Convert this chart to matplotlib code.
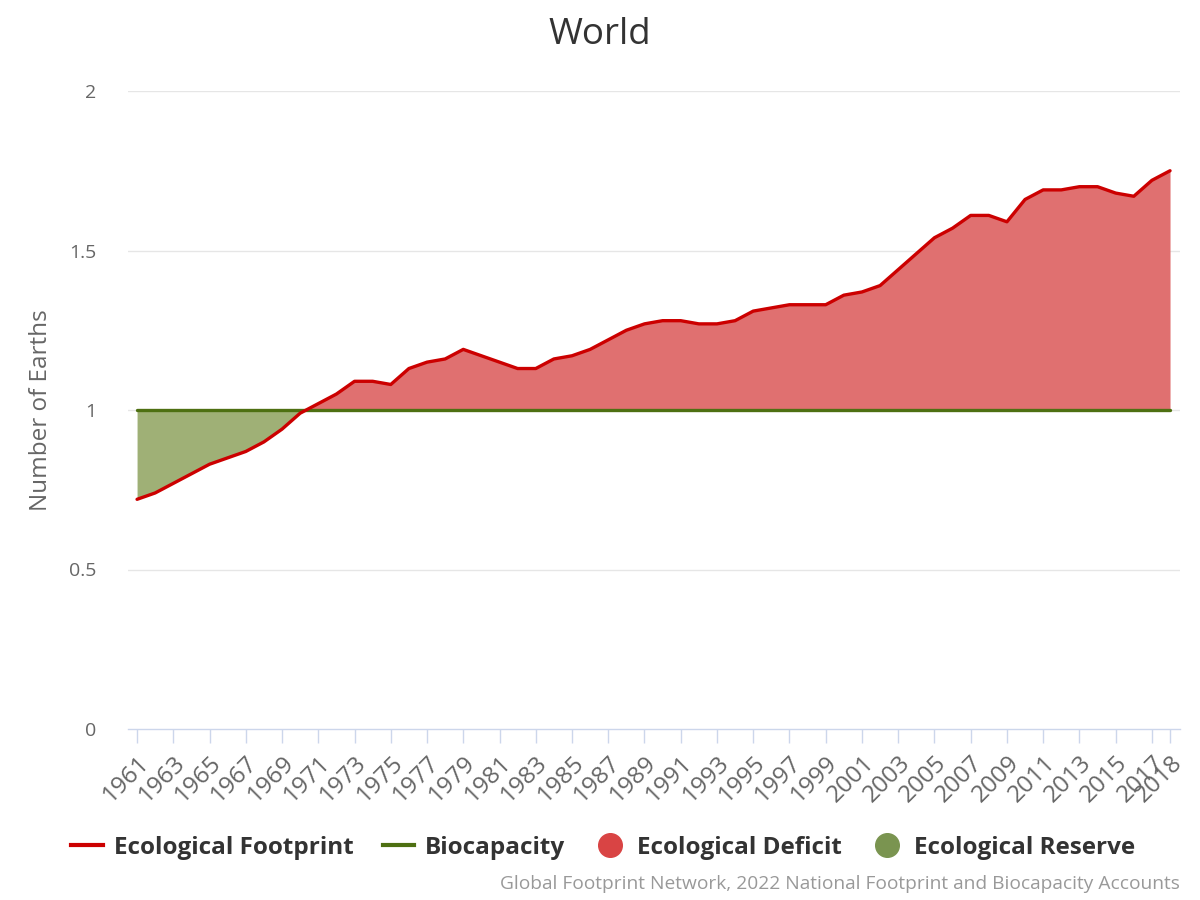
import numpy as np
import matplotlib.pyplot as plt
from matplotlib.lines import Line2D

plt.rcParams['font.family'] = ['Open Sans', 'DejaVu Sans']

# ---- data ----
years = list(range(1961, 2019))
footprint = [0.72, 0.74, 0.77, 0.80, 0.83, 0.85, 0.87, 0.90, 0.94, 0.99,
             1.02, 1.05, 1.09, 1.09, 1.08, 1.13, 1.15, 1.16, 1.19, 1.17,
             1.15, 1.13, 1.13, 1.16, 1.17, 1.19, 1.22, 1.25, 1.27, 1.28,
             1.28, 1.27, 1.27, 1.28, 1.31, 1.32, 1.33, 1.33, 1.33, 1.36,
             1.37, 1.39, 1.44, 1.49, 1.54, 1.57, 1.61, 1.61, 1.59, 1.66,
             1.69, 1.69, 1.70, 1.70, 1.68, 1.67, 1.72, 1.75]
biocapacity = [1.0] * len(years)
tick_years = list(range(1961, 2018, 2)) + [2018]
y_ticks = [0, 0.5, 1, 1.5, 2]
y_tick_labels = ['0', '0.5', '1', '1.5', '2']

# ---- colours ----
RED_LINE = '#cc0000'
RED_FILL = '#e07070'
GREEN_LINE = '#4e7012'
GREEN_FILL = '#9fb076'
DEFICIT_DOT = '#d94444'
RESERVE_DOT = '#7a9450'

x = np.array(years)
fp = np.array(footprint)
bc = np.array(biocapacity)

fig = plt.figure(figsize=(12, 9), dpi=100)
ax = fig.add_axes([128 / 1200, 1 - 729 / 900, (1180 - 128) / 1200, (729 - 91) / 900])

ax.fill_between(x, bc, fp, where=fp >= bc, interpolate=True,
                color=RED_FILL, linewidth=0, zorder=2)
ax.fill_between(x, fp, bc, where=fp <= bc, interpolate=True,
                color=GREEN_FILL, linewidth=0, zorder=2)
ax.plot(x, bc, color=GREEN_LINE, lw=2.4, zorder=3, solid_capstyle='round')
ax.plot(x, fp, color=RED_LINE, lw=2.4, zorder=4, solid_capstyle='round',
        solid_joinstyle='round')

ax.set_xlim(1960.5, 2018.55)
ax.set_ylim(0, 2)

# grid
ax.set_yticks(y_ticks)
ax.set_yticklabels(y_tick_labels)
for yv in y_ticks[1:]:
    ax.axhline(yv, color='#e6e6e6', lw=1, zorder=1)

for s in ['top', 'right', 'left']:
    ax.spines[s].set_visible(False)
ax.spines['bottom'].set_color('#ccd6eb')
ax.spines['bottom'].set_linewidth(1)

ax.tick_params(axis='y', length=0, pad=23, labelsize=14, labelcolor='#666666')
ax.set_xticks(tick_years)
ax.set_xticklabels([str(t) for t in tick_years], rotation=45, ha='right',
                   rotation_mode='anchor', fontsize=17.5, color='#666666')
ax.tick_params(axis='x', length=10, color='#ccd6eb', width=1, pad=6)

ax.set_ylabel('Number of Earths', fontsize=17.5, color='#666666', labelpad=11)

fig.text(0.5, 1 - 35 / 900, 'World', ha='center', va='center',
         fontsize=26.5, color='#333333')

handles = [
    Line2D([0], [0], color=RED_LINE, lw=3),
    Line2D([0], [0], color=GREEN_LINE, lw=3),
    Line2D([0], [0], marker='o', color='none', markerfacecolor=DEFICIT_DOT,
           markeredgecolor=DEFICIT_DOT, markersize=17),
    Line2D([0], [0], marker='o', color='none', markerfacecolor=RESERVE_DOT,
           markeredgecolor=RESERVE_DOT, markersize=17),
]
labels = ['Ecological Footprint', 'Biocapacity', 'Ecological Deficit',
          'Ecological Reserve']
leg = fig.legend(handles, labels, loc='center', ncol=4,
                 bbox_to_anchor=(603 / 1200, 1 - 848 / 900), frameon=False,
                 prop={'size': 17.5, 'weight': 'bold'}, handlelength=1.3,
                 handletextpad=0.45, columnspacing=1.2)
for t in leg.get_texts():
    t.set_color('#333333')

fig.text(1180 / 1200, 1 - 884 / 900,
         'Global Footprint Network, 2022 National Footprint and Biocapacity Accounts',
         ha='right', va='center', fontsize=13.8, color='#999999')

fig.savefig('out.png', dpi=100)
